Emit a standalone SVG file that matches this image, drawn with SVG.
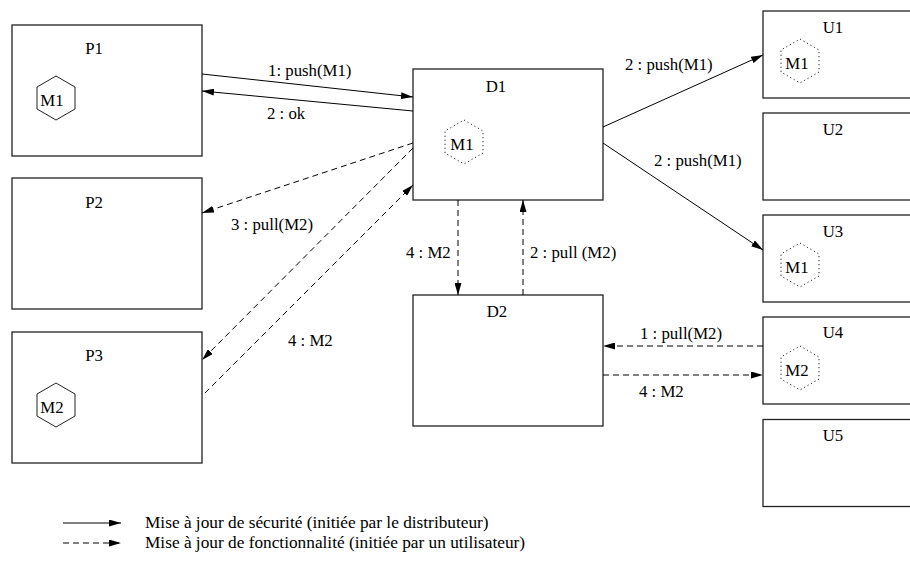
<svg xmlns="http://www.w3.org/2000/svg" width="910" height="569" viewBox="0 0 910 569">
<defs>
<marker id="ah" markerWidth="13" markerHeight="7" refX="12" refY="3.5" orient="auto" markerUnits="userSpaceOnUse">
<path d="M0,0 L12,3.5 L0,7 z" fill="#000"/>
</marker>
<polygon id="hex" points="0,-22 19,-11 19,11 0,22 -19,11 -19,-11"/>
</defs>
<style>
.box{fill:#fff;stroke:#222;stroke-width:1.3}
.lbl{text-anchor:middle}
.hs{fill:none;stroke:#222;stroke-width:1}
.hd{fill:none;stroke:#222;stroke-width:1;stroke-dasharray:1.2,2.8}
.sol{fill:none;stroke:#000;stroke-width:1;marker-end:url(#ah)}
.dsh{fill:none;stroke:#000;stroke-width:1;stroke-dasharray:6,4;marker-end:url(#ah)}
</style>
<rect width="910" height="569" fill="#fff"/>

<g id="P1"><rect class="box" x="12" y="25" width="190" height="131"/><text class="lbl" x="94" y="54" style="font-family:'Liberation Serif',serif;font-size:16.8px">P1</text>
<use href="#hex" class="hs" x="56" y="98"/><text class="lbl" x="52" y="106" style="font-family:'Liberation Serif',serif;font-size:16.8px">M1</text></g>
<g id="P2"><rect class="box" x="12" y="178" width="190" height="131"/><text class="lbl" x="94" y="208" style="font-family:'Liberation Serif',serif;font-size:16.8px">P2</text></g>
<g id="P3"><rect class="box" x="12" y="332" width="190" height="131"/><text class="lbl" x="94" y="361" style="font-family:'Liberation Serif',serif;font-size:16.8px">P3</text>
<use href="#hex" class="hs" x="56" y="405"/><text class="lbl" x="52" y="413" style="font-family:'Liberation Serif',serif;font-size:16.8px">M2</text></g>
<g id="D1"><rect class="box" x="413" y="69" width="190" height="131"/><text class="lbl" x="496" y="92" style="font-family:'Liberation Serif',serif;font-size:16.8px">D1</text>
<use href="#hex" class="hd" x="464" y="142"/><text class="lbl" x="462" y="150" style="font-family:'Liberation Serif',serif;font-size:16.8px">M1</text></g>
<g id="D2"><rect class="box" x="413" y="295" width="190" height="131"/><text class="lbl" x="497" y="317" style="font-family:'Liberation Serif',serif;font-size:16.8px">D2</text></g>
<g id="U1"><rect class="box" x="763" y="11" width="160" height="87"/><text class="lbl" x="833" y="33" style="font-family:'Liberation Serif',serif;font-size:16.8px">U1</text>
<use href="#hex" class="hd" x="800" y="61"/><text class="lbl" x="797" y="69" style="font-family:'Liberation Serif',serif;font-size:16.8px">M1</text></g>
<g id="U2"><rect class="box" x="763" y="113" width="160" height="87"/><text class="lbl" x="833" y="135" style="font-family:'Liberation Serif',serif;font-size:16.8px">U2</text></g>
<g id="U3"><rect class="box" x="763" y="215" width="160" height="87"/><text class="lbl" x="833" y="237" style="font-family:'Liberation Serif',serif;font-size:16.8px">U3</text>
<use href="#hex" class="hd" x="800" y="265"/><text class="lbl" x="797" y="273" style="font-family:'Liberation Serif',serif;font-size:16.8px">M1</text></g>
<g id="U4"><rect class="box" x="763" y="317" width="160" height="87"/><text class="lbl" x="833" y="338" style="font-family:'Liberation Serif',serif;font-size:16.8px">U4</text>
<use href="#hex" class="hd" x="800" y="368"/><text class="lbl" x="797" y="376" style="font-family:'Liberation Serif',serif;font-size:16.8px">M2</text></g>
<g id="U5"><rect class="box" x="763" y="419.5" width="160" height="87"/><text class="lbl" x="833" y="441" style="font-family:'Liberation Serif',serif;font-size:16.8px">U5</text></g>

<g id="connectors">
<line class="sol" x1="202" y1="74" x2="413" y2="97"/>
<line class="sol" x1="413" y1="111" x2="202" y2="91"/>
<line class="dsh" x1="413" y1="143" x2="202" y2="213"/>
<line class="dsh" x1="413" y1="148" x2="202" y2="360"/>
<line class="dsh" x1="205" y1="393" x2="413" y2="185"/>
<line class="dsh" x1="458" y1="200" x2="458" y2="295"/>
<line class="dsh" x1="523" y1="295" x2="523" y2="200"/>
<line class="dsh" x1="763" y1="346" x2="603" y2="346"/>
<line class="dsh" x1="603" y1="375" x2="763" y2="375"/>
<line class="sol" x1="603" y1="127" x2="763" y2="55"/>
<line class="sol" x1="603" y1="143" x2="763" y2="250"/>
<text x="268" y="76" style="font-family:'Liberation Serif',serif;font-size:16.8px">1: push(M1)</text>
<text x="267" y="119" style="font-family:'Liberation Serif',serif;font-size:16.8px">2 : ok</text>
<text x="231" y="230" style="font-family:'Liberation Serif',serif;font-size:16.8px">3 : pull(M2)</text>
<text x="288" y="346" style="font-family:'Liberation Serif',serif;font-size:16.8px">4 : M2</text>
<text x="406" y="258" style="font-family:'Liberation Serif',serif;font-size:16.8px">4 : M2</text>
<text x="530" y="258" style="font-family:'Liberation Serif',serif;font-size:16.8px">2 : pull (M2)</text>
<text x="640" y="339" style="font-family:'Liberation Serif',serif;font-size:16.8px">1 : pull(M2)</text>
<text x="639" y="397" style="font-family:'Liberation Serif',serif;font-size:16.8px">4 : M2</text>
<text x="625" y="70" style="font-family:'Liberation Serif',serif;font-size:16.8px">2 : push(M1)</text>
<text x="654" y="166" style="font-family:'Liberation Serif',serif;font-size:16.8px">2 : push(M1)</text>
</g>

<g id="legend">
<line class="sol" x1="63" y1="523" x2="121" y2="523"/>
<line class="dsh" x1="63" y1="543" x2="121" y2="543"/>
<text x="145" y="528" style="font-family:'Liberation Serif',serif;font-size:17.3px">Mise à jour de sécurité (initiée par le distributeur)</text>
<text x="145" y="548" style="font-family:'Liberation Serif',serif;font-size:17.3px">Mise à jour de fonctionnalité (initiée par un utilisateur)</text>
</g>
</svg>
